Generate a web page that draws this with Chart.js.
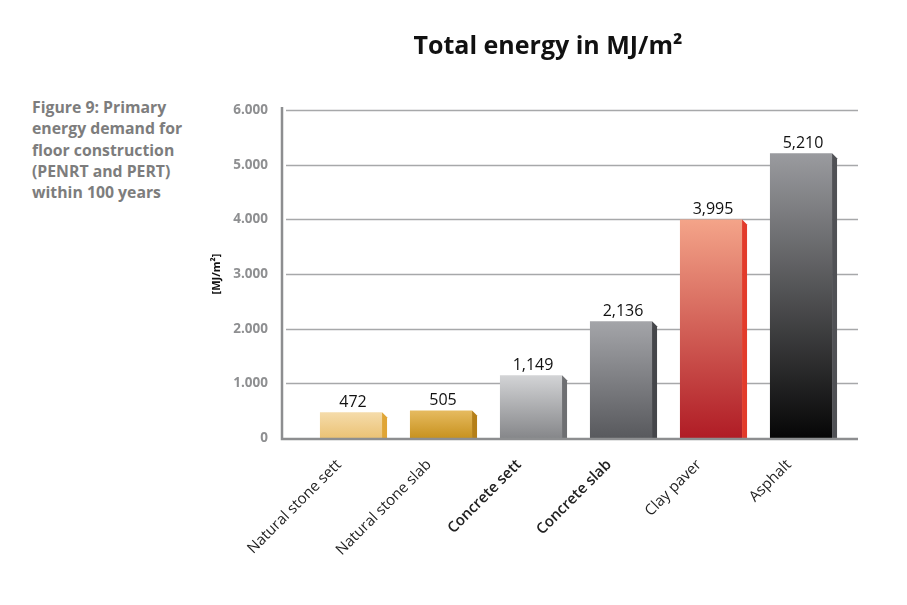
<!DOCTYPE html>
<html>
<head>
<meta charset="utf-8">
<script src="https://cdn.jsdelivr.net/npm/chart.js@4.4.1/dist/chart.umd.min.js"></script>
<style>
  body { margin: 0; background: #fff; }
  #wrap { position: relative; width: 907px; height: 605px; }
  #caption {
    position: absolute; left: 32px; top: 97px;
    font-family: "Open Sans", sans-serif; font-weight: bold;
    font-size: 15.8px; line-height: 21.3px; color: #7d7d7d;
  }
  #box { position: absolute; left: 190px; top: 0; width: 717px; height: 605px; }
</style>
</head>
<body>
<div id="wrap">
  <div id="caption">Figure 9: Primary<br>energy demand for<br>floor construction<br>(PENRT and PERT)<br>within 100 years</div>
  <div id="box"><canvas id="energyChart"></canvas></div>
</div>
<script>
/* ====== data ===== */
const chartTitle = 'Total energy in MJ/m²';
const categories = ['Natural stone sett', 'Natural stone slab', 'Concrete sett', 'Concrete slab', 'Clay paver', 'Asphalt'];
const energyValues = [472, 505, 1149, 2136, 3995, 5210];
const valueLabels = ['472', '505', '1,149', '2,136', '3,995', '5,210'];
const yTicks = [0, 1000, 2000, 3000, 4000, 5000, 6000];
const yTickLabels = ['0', '1.000', '2.000', '3.000', '4.000', '5.000', '6.000'];

// top / bottom colour of the front face, and the side face
const barTop = ['#f5dcab', '#e6bb60', '#d3d4d6', '#a4a5a9', '#f4a489', '#9a9b9f'];
const barBottom = ['#ebc275', '#c8921f', '#86878a', '#58595d', '#b01c25', '#060606'];
const barSide = ['#e0a535', '#b57f18', '#6e6f72', '#45464a', '#e23b2b', '#505155'];

function frontGradient(ctx) {
    const chart = ctx.chart;
    const area = chart.chartArea;
    const yScale = chart.scales.y;
    if (!area || !yScale) return barBottom[ctx.dataIndex];
    const top = yScale.getPixelForValue(energyValues[ctx.dataIndex]);
    if (!isFinite(top) || !isFinite(area.bottom)) return barBottom[ctx.dataIndex];
    const g = chart.ctx.createLinearGradient(0, top, 0, area.bottom);
    g.addColorStop(0, barTop[ctx.dataIndex]);
    g.addColorStop(1, barBottom[ctx.dataIndex]);
    return g;
}

/* ====== title, grid, axis lines, 3d side, value labels ===== */
const decorPlugin = {
    id: 'decor',
    beforeDatasetsDraw(chart) {
        const {ctx, chartArea, scales} = chart;
        const left = chartArea.left - 24, right = chartArea.right + 12;
        ctx.save();
        // title sits centred over the whole right block, not the plot
        ctx.fillStyle = '#111';
        ctx.font = 'bold 25px "Open Sans", sans-serif';
        ctx.textAlign = 'center';
        ctx.textBaseline = 'middle';
        ctx.fillText(chartTitle, 358, 47);

        ctx.strokeStyle = '#a7a8aa';
        ctx.lineWidth = 1.3;
        yTicks.forEach(v => {
            if (v === 0) return;
            const y = Math.round(scales.y.getPixelForValue(v)) + 0.5;
            ctx.beginPath();
            ctx.moveTo(left + 4, y);
            ctx.lineTo(right, y);
            ctx.stroke();
        });
        ctx.restore();
    },
    afterDatasetsDraw(chart) {
        const {ctx, chartArea, scales} = chart;
        const left = chartArea.left - 24, right = chartArea.right + 12;
        const base = scales.y.getPixelForValue(0);
        ctx.save();
        chart.getDatasetMeta(0).data.forEach((bar, i) => {
            const x1 = bar.x + bar.width / 2;
            const d = 5;
            ctx.fillStyle = barSide[i];
            ctx.beginPath();
            ctx.moveTo(x1, bar.y);
            ctx.lineTo(x1 + d, bar.y + d);
            ctx.lineTo(x1 + d, base);
            ctx.lineTo(x1, base);
            ctx.closePath();
            ctx.fill();

            ctx.fillStyle = '#111';
            ctx.font = '16px "Open Sans", sans-serif';
            ctx.textAlign = 'center';
            ctx.textBaseline = 'bottom';
            ctx.fillText(valueLabels[i], bar.x + 2, bar.y - 2);
        });
        // axis lines
        ctx.strokeStyle = '#8d8e90';
        ctx.lineWidth = 2.5;
        ctx.beginPath();
        ctx.moveTo(left, scales.y.getPixelForValue(6000) - 3);
        ctx.lineTo(left, base + 1);
        ctx.lineTo(right, base + 1);
        ctx.stroke();
        ctx.restore();
    }
};

const energyData = {
    labels: categories,
    datasets: [
        {
        data: energyValues,
        backgroundColor: frontGradient,
        borderWidth: 0,
        categoryPercentage: 1,
        barPercentage: 0.69,
        }
    ]
};

const energyConfig = {
    type: 'bar',
    data: energyData,
    options: {
        responsive: true,
        maintainAspectRatio: false,
        animation: false,
        layout: {
            padding: {left: 10, right: 61, top: 110, bottom: 46}
        },
        plugins: {
            legend: {display: false},
            tooltip: {enabled: false},
            title: {display: false}
        },
        scales: {
            x: {
                grid: {display: false},
                border: {display: false},
                ticks: {
                    color: '#222',
                    minRotation: 45,
                    maxRotation: 45,
                    padding: 10,
                    labelOffset: -12,
                    font: ctx => ({
                        family: '"Open Sans", sans-serif',
                        size: 15,
                        weight: (ctx.index === 2 || ctx.index === 3) ? '600' : 'normal'
                    })
                },
                afterFit: s => { s.height = 121; }
            },
            y: {
                min: 0,
                max: 6000,
                afterBuildTicks: s => { s.ticks = yTicks.map(v => ({value: v})); },
                grid: {display: false},
                border: {display: false},
                ticks: {
                    color: '#8e8f91',
                    padding: 30,
                    font: {family: '"Open Sans", sans-serif', size: 13.5, weight: 'bold'},
                    callback: (v, i) => yTickLabels[i]
                },
                title: {
                    display: true,
                    text: '[MJ/m²]',
                    color: '#111',
                    font: {family: '"Open Sans", sans-serif', size: 11, weight: 'bold'},
                    padding: {top: 10, bottom: 4}
                },
                afterFit: s => { s.width = 106; }
            }
        }
    },
    plugins: [decorPlugin]
};

const energyChart = new Chart(
    document.querySelector('#energyChart'),
    energyConfig
);
</script>
</body>
</html>
